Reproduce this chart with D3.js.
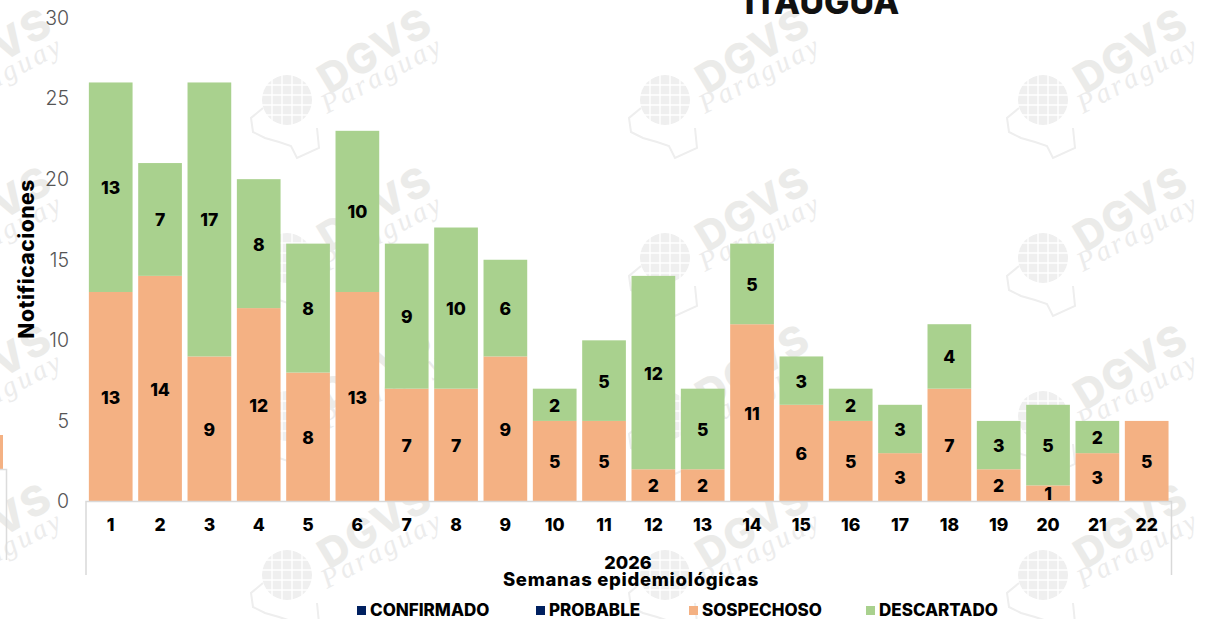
<!DOCTYPE html>
<html><head><meta charset="utf-8">
<script src="https://cdn.jsdelivr.net/npm/d3@7"></script>
<style>html,body{margin:0;padding:0;background:#fff}svg{display:block}text{font-family:Inter,"Open Sans",sans-serif}</style>
</head><body><div id="c"></div>
<script>
const weeks=[1,2,3,4,5,6,7,8,9,10,11,12,13,14,15,16,17,18,19,20,21,22];
const sospechoso=[13,14,9,12,8,13,7,7,9,5,5,2,2,11,6,5,3,7,2,1,3,5];
const descartado=[13,7,17,8,8,10,9,10,6,2,5,12,5,5,3,2,3,4,3,5,2,0];
const yTicks=[0,5,10,15,20,25,30];
const legendItems=[["CONFIRMADO","#002060",357],["PROBABLE","#002060",536],["SOSPECHOSO","#F4B183",689],["DESCARTADO","#A9D18E",866]];
const W=1206,H=619;
const svg=d3.select("#c").append("svg").attr("width",W).attr("height",H);
const x=d3.scaleBand().domain(weeks).range([85.9,1171.5]).paddingInner(0.114).paddingOuter(0.06);
const y=d3.scaleLinear().domain([0,30]).range([501.5,18]);

// watermarks
const wmX=[-93,287,665,1043],wmY=[100,258,416,575];
const wm=svg.append("g");
wmY.forEach(ty=>wmX.forEach(tx=>{
  const g=wm.append("g").attr("transform",`translate(${tx},${ty})`);
  g.append("circle").attr("r",25).attr("fill","#efefef");
  [-15,-5,5,15].forEach(d=>{
    g.append("line").attr("x1",d).attr("x2",d).attr("y1",-25).attr("y2",25).attr("stroke","#fff").attr("stroke-width",1.4);
    g.append("line").attr("y1",d).attr("y2",d).attr("x1",-25).attr("x2",25).attr("stroke","#fff").attr("stroke-width",1.4);
  });
  g.append("path").attr("d","M-24,8 L-36,18 L-34,32 L-22,38 L-8,42 L4,46 L10,58 L32,48 L30,28").attr("fill","none").attr("stroke","#eeeeee").attr("stroke-width",2);
  g.append("text").attr("transform","translate(42,-5) rotate(-31)").attr("font-size",41).attr("letter-spacing",1.5).attr("font-weight",800).attr("fill","#ebebe9").text("DGVS");
  g.append("text").attr("transform","translate(40,14) rotate(-28)").attr("font-size",28).attr("font-style","italic").attr("letter-spacing",3).attr("fill","#ececec").style("font-family","'Liberation Serif',serif").text("Paraguay");
}));

// title
svg.append("text").attr("x",822).attr("y",14).attr("text-anchor","middle").attr("font-size",33.8).attr("font-weight",800).attr("fill","#111").text("ITAUGUA");

// left crop artefact
svg.append("rect").attr("x",0).attr("y",435).attr("width",3).attr("height",34).attr("fill","#F4B183");
svg.append("path").attr("d","M0,469.5H6.5V560").attr("fill","none").attr("stroke","#dcdcdc").attr("stroke-width",1.5);

// bars
svg.append("g").selectAll("rect").data(weeks).join("rect")
  .attr("x",d=>x(d)).attr("width",x.bandwidth())
  .attr("y",(d,i)=>y(sospechoso[i])).attr("height",(d,i)=>y(0)-y(sospechoso[i]))
  .attr("fill","#F4B183");
svg.append("g").selectAll("rect").data(weeks.filter((d,i)=>descartado[i]>0)).join("rect")
  .attr("x",d=>x(d)).attr("width",x.bandwidth())
  .attr("y",d=>y(sospechoso[d-1]+descartado[d-1])).attr("height",d=>y(0)-y(descartado[d-1]))
  .attr("fill","#A9D18E");

// value labels
const lab=svg.append("g").attr("font-size",17.5).attr("font-weight",800).attr("fill","#000").attr("text-anchor","middle");
weeks.forEach((w,i)=>{
  const cx=x(w)+x.bandwidth()/2;
  lab.append("text").attr("x",cx).attr("y",y(sospechoso[i]/2)+7).text(sospechoso[i]);
  if(descartado[i]>0) lab.append("text").attr("x",cx).attr("y",y(sospechoso[i]+descartado[i]/2)+7).text(descartado[i]);
});

// y axis
const ya=svg.append("g").attr("transform","translate(69,0)").call(d3.axisLeft(y).tickValues(yTicks).tickSize(0).tickPadding(0));
ya.select(".domain").remove();
ya.selectAll("text").attr("font-size",19.5).attr("font-weight",300).attr("fill","#555").style("font-family","Inter,sans-serif");

// x axis
const xa=svg.append("g").attr("transform","translate(0,501.5)").call(d3.axisBottom(x).tickSize(0).tickPadding(17));
xa.select(".domain").remove();
xa.selectAll("text").attr("font-size",17.5).attr("font-weight",800).attr("fill","#000").style("font-family","Inter,sans-serif");
svg.append("path").attr("d","M86,575V501.5H1171.5V575").attr("fill","none").attr("stroke","#d9d9d9").attr("stroke-width",1.5);

svg.append("text").attr("x",628).attr("y",569).attr("text-anchor","middle").attr("font-size",18).attr("font-weight",800).attr("fill","#000").text("2026");
svg.append("text").attr("x",631).attr("y",586).attr("text-anchor","middle").attr("font-size",18.5).attr("letter-spacing",0.7).attr("font-weight",800).attr("fill","#000").text("Semanas epidemiológicas");
svg.append("text").attr("transform","translate(34,259) rotate(-90)").attr("text-anchor","middle").attr("font-size",21).attr("letter-spacing",0.5).attr("font-weight",800).attr("fill","#000").text("Notificaciones");

// legend
const lg=svg.append("g").selectAll("g").data(legendItems).join("g").attr("transform",d=>`translate(${d[2]},0)`);
lg.append("rect").attr("y",606).attr("width",9).attr("height",9).attr("fill",d=>d[1]);
lg.append("text").attr("x",13).attr("y",616).attr("font-size",17).attr("font-weight",800).attr("fill","#000").text(d=>d[0]);
</script></body></html>
